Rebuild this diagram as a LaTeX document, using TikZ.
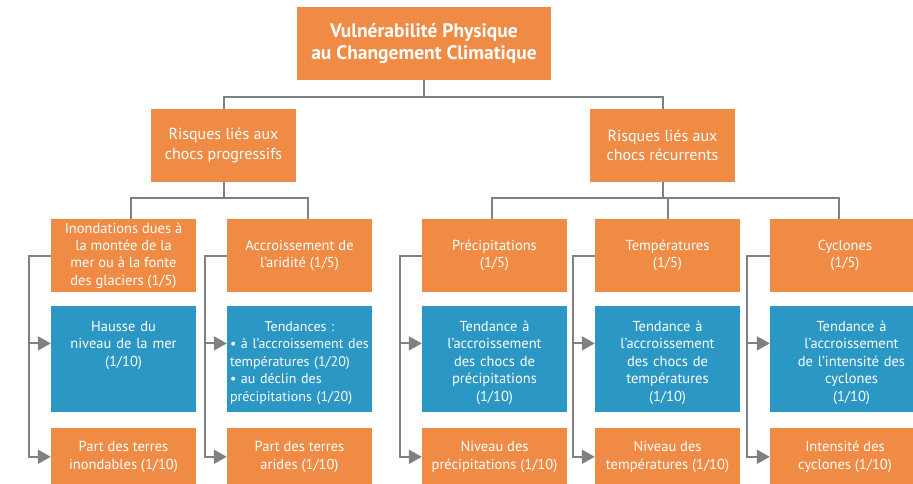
\documentclass[tikz,border=0pt]{standalone}
\usepackage{fontspec}
\setmainfont{PT Sans}
\usetikzlibrary{positioning,arrows.meta}
\definecolor{riskorange}{RGB}{240,139,70}
\definecolor{trendblue}{RGB}{43,151,196}
\definecolor{linkgray}{RGB}{128,128,128}

\begin{document}
\begin{tikzpicture}[x=1pt, y=-1pt,
  box/.style={fill=riskorange, text=white, inner sep=0pt, align=center,
    minimum width=145pt, font=\fontsize{14.5}{17.4}\selectfont},
  headbox/.style={box, minimum height=73pt},
  trendbox/.style={box, fill=trendblue, text width=145pt, text height=25pt, text depth=81pt},
  indbox/.style={box, minimum height=58pt},
  link/.style={draw=linkgray, line width=2pt},
  tip/.style={-{Triangle[length=13pt, width=14pt]}}]
  \clip (0,0) rectangle (913,484);

  % top of the tree
  \node[box, minimum width=254pt, minimum height=73pt, font=\fontsize{19.5}{22}\selectfont\bfseries] (vuln) at (424,43.5) {Vulnérabilité Physique\\au Changement Climatique};
  \node[box, minimum height=73pt, font=\fontsize{16}{19.3}\selectfont] (riskL) at (223.5,145.5) {Risques liés aux\\chocs progressifs};
  \node[box, minimum height=73pt, font=\fontsize{16}{19.3}\selectfont] (riskR) at (662.5,145.5) {Risques liés aux\\chocs récurrents};

  % column heads
  \node[headbox] (inond) at (123.5,255.5) {Inondations dues à\\la montée de la\\mer ou à la fonte\\des glaciers (1/5)};
  \node[headbox] (arid) at (299.5,255.5) {Accroissement de\\l’aridité (1/5)};
  \node[headbox] (precip) at (494.5,255.5) {Précipitations\\(1/5)};
  \node[headbox] (temp) at (667.5,255.5) {Températures\\(1/5)};
  \node[headbox, minimum width=150pt] (cycl) at (845,255.5) {Cyclones\\(1/5)};

  % trends
  \node[trendbox, below=14pt of inond] (hausse) {Hausse du\\niveau de la mer\\(1/10)};
  \node[trendbox, below=14pt of arid, align=left, text width=139pt, inner xsep=3pt, font=\fontsize{14}{17.4}\selectfont] (tendA) {\makebox[139pt]{Tendances :}\\\mbox{\textbullet{} à l’accroissement des}\\températures (1/20)\\\textbullet{} au déclin des\\précipitations (1/20)};
  \node[trendbox, below=14pt of precip] (tendP) {Tendance à\\l’accroissement\\des chocs de\\précipitations\\(1/10)};
  \node[trendbox, below=14pt of temp] (tendT) {Tendance à\\l’accroissement\\des chocs de\\températures\\(1/10)};
  \node[trendbox, text width=163pt, below right=14pt and 0pt of cycl.south west, anchor=north west] (tendC) {Tendance à\\l’accroissement\\de l’intensité des\\cyclones\\(1/10)};

  % indicators
  \node[indbox, below=15pt of hausse] (partI) {Part des terres\\inondables (1/10)};
  \node[indbox, below=15pt of tendA] (partA) {Part des terres\\arides (1/10)};
  \node[indbox, below=15pt of tendP] (nivP) {Niveau des\\précipitations (1/10)};
  \node[indbox, below=15pt of tendT] (nivT) {Niveau des\\températures (1/10)};
  \node[indbox, minimum width=150pt, below=15pt of tendC.south west, anchor=north west] (intC) {Intensité des\\cyclones (1/10)};

  % tree links
  \draw[link] (vuln.south) -- ++(0,17) -| (riskL.north);
  \draw[link] (vuln.south) -- ++(0,17) -| (riskR.north);
  \draw[link] (riskL.south) -- ++(0,16) -| ([xshift=7pt]inond.north);
  \draw[link] (riskL.south) -- ++(0,16) -| ([xshift=8pt]arid.north);
  \draw[link] (riskR.south) -- ++(0,16) -| ([xshift=-3pt]precip.north);
  \draw[link] (riskR.south) -- ++(0,16) -| (temp.north);
  \draw[link] (riskR.south) -- ++(0,16) -| ([xshift=-6pt]cycl.north);

  % side rails
  \draw[link, tip] (inond.west) -- ++(-22,0) |- (partI.west);
  \draw[link, tip] (hausse.west) ++(-22,-16) -- ++(22,0);
  \draw[link, tip] (arid.west) -- ++(-22,0) |- (partA.west);
  \draw[link, tip] (tendA.west) ++(-22,-16) -- ++(22,0);
  \draw[link, tip] (precip.west) -- ++(-22,0) |- (nivP.west);
  \draw[link, tip] (tendP.west) ++(-22,-16) -- ++(22,0);
  \draw[link, tip] (temp.west) -- ++(-22,0) |- (nivT.west);
  \draw[link, tip] (tendT.west) ++(-22,-16) -- ++(22,0);
  \draw[link, tip] (cycl.west) -- ++(-23,0) |- (intC.west);
  \draw[link, tip] (tendC.west) ++(-23,-16) -- ++(23,0);
\end{tikzpicture}
\end{document}
